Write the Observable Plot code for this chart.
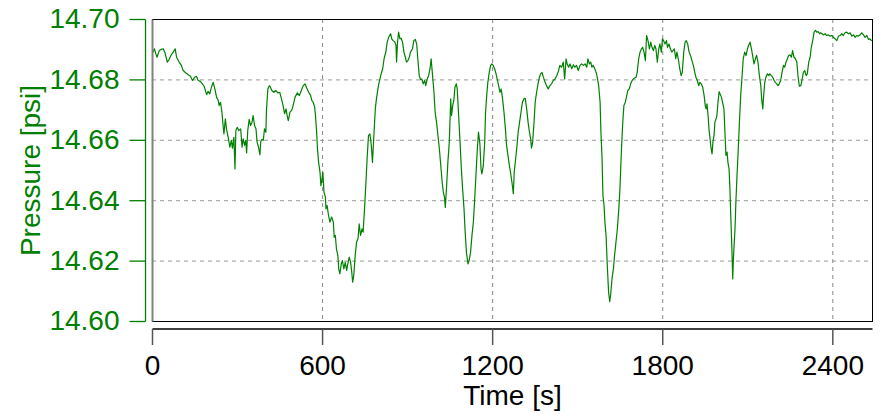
<!DOCTYPE html>
<html><head><meta charset="utf-8">
<script src="https://cdn.jsdelivr.net/npm/d3@7"></script>
<script src="https://cdn.jsdelivr.net/npm/@observablehq/plot@0.6"></script>
<style>body{margin:0;background:#fff}</style>
</head><body><div id="chart"></div>
<script>
// [time s, pressure psi]
const readings = [
[2,14.6892],[7,14.6903],[12,14.6886],[16,14.6875],[24,14.6897],[31,14.6901],[38,14.6903],[44,14.6890],[52,14.6859],[59,14.6868],[66,14.6883],[73,14.6892],[80,14.6903],[85,14.6875],[94,14.6859],[102,14.6848],[108,14.6831],[118,14.6823],[126,14.6817],[134,14.6812],[141,14.6798],[149,14.6809],[155,14.6812],[161,14.6798],[169,14.6795],[176,14.6787],[182,14.6779],[191,14.6751],[196,14.6762],[202,14.6754],[208,14.6776],[214,14.6792],[220,14.6770],[226,14.6743],[232,14.6732],[235,14.6715],[240,14.6726],[245,14.6693],[249,14.6649],[252,14.6621],[257,14.6671],[261,14.6638],[268,14.6605],[273,14.6577],[278,14.6600],[282,14.6574],[287,14.6610],[291,14.6505],[294,14.6632],[299,14.6643],[304,14.6632],[311,14.6638],[316,14.6577],[320,14.6605],[325,14.6583],[329,14.6600],[332,14.6558],[336,14.6632],[341,14.6669],[346,14.6649],[351,14.6660],[355,14.6682],[360,14.6649],[365,14.6638],[369,14.6594],[374,14.6577],[379,14.6552],[382,14.6597],[386,14.6603],[391,14.6600],[395,14.6638],[400,14.6627],[402,14.6699],[407,14.6770],[412,14.6781],[416,14.6776],[421,14.6765],[428,14.6759],[435,14.6765],[442,14.6757],[449,14.6759],[455,14.6737],[461,14.6713],[466,14.6688],[471,14.6704],[475,14.6682],[479,14.6665],[485,14.6693],[491,14.6699],[496,14.6715],[503,14.6743],[511,14.6757],[518,14.6748],[525,14.6765],[532,14.6781],[538,14.6787],[544,14.6773],[551,14.6759],[558,14.6748],[562,14.6732],[567,14.6726],[572,14.6710],[575,14.6682],[579,14.6627],[582,14.6572],[586,14.6527],[591,14.6494],[594,14.6450],[598,14.6472],[601,14.6494],[605,14.6428],[610,14.6412],[612,14.6373],[616,14.6384],[621,14.6351],[626,14.6329],[632,14.6346],[638,14.6329],[641,14.6279],
[645,14.6285],[649,14.6240],[654,14.6218],[657,14.6174],[661,14.6158],[666,14.6191],[670,14.6202],[675,14.6174],[680,14.6196],[685,14.6169],[689,14.6191],[694,14.6213],[699,14.6196],[703,14.6163],[706,14.6130],[710,14.6152],[715,14.6218],[720,14.6263],[725,14.6274],[729,14.6323],[734,14.6285],[739,14.6307],[743,14.6296],[748,14.6373],[753,14.6461],[757,14.6538],[762,14.6616],[767,14.6621],[772,14.6583],[776,14.6527],[781,14.6616],[786,14.6704],[790,14.6737],[797,14.6781],[805,14.6814],[812,14.6837],[817,14.6870],[823,14.6892],[828,14.6925],[833,14.6941],[840,14.6953],[844,14.6936],[849,14.6930],[855,14.6925],[859,14.6914],[861,14.6859],[864,14.6919],[868,14.6958],[873,14.6936],[877,14.6938],[882,14.6925],[887,14.6892],[892,14.6875],[896,14.6859],[901,14.6864],[906,14.6875],[910,14.6892],[917,14.6903],[922,14.6930],[927,14.6934],[932,14.6919],[936,14.6870],[941,14.6814],[946,14.6801],[950,14.6803],[955,14.6787],[960,14.6798],[964,14.6781],[969,14.6803],[974,14.6814],[979,14.6837],[983,14.6870],[988,14.6814],[993,14.6759],[997,14.6693],[1002,14.6660],[1007,14.6616],[1012,14.6572],[1015,14.6538],[1019,14.6494],[1022,14.6461],[1026,14.6428],[1030,14.6412],[1033,14.6378],[1037,14.6439],[1042,14.6527],[1047,14.6594],[1052,14.6737],[1055,14.6682],[1059,14.6715],[1063,14.6732],[1067,14.6776],[1072,14.6787],[1075,14.6770],[1080,14.6682],[1085,14.6594],[1089,14.6516],[1094,14.6439],[1099,14.6373],[1103,14.6296],[1108,14.6224],[1113,14.6191],[1117,14.6202],[1122,14.6229],[1127,14.6285],[1132,14.6329],[1136,14.6395],[1141,14.6483],[1146,14.6572],[1150,14.6627],[1155,14.6588],[1159,14.6505],[1162,14.6489],[1167,14.6516],[1172,14.6594],[1175,14.6693],[1179,14.6748],[1183,14.6792],[1188,14.6825],[1193,14.6848],[1197,14.6853],[1202,14.6848],[1207,14.6837],[1212,14.6820],[1216,14.6803],[1221,14.6781],[1226,14.6759],[1230,14.6770],[1235,14.6737],[1240,14.6693],[1245,14.6638],[1249,14.6583],[1254,14.6550],[1259,14.6516],[1263,14.6494],[1268,14.6461],[1273,14.6423],
[1276,14.6494],[1281,14.6538],[1286,14.6583],[1290,14.6627],[1295,14.6660],[1300,14.6693],[1305,14.6726],[1310,14.6737],[1315,14.6739],[1320,14.6704],[1325,14.6660],[1329,14.6632],[1334,14.6605],[1337,14.6574],[1341,14.6594],[1346,14.6660],[1350,14.6726],[1355,14.6759],[1360,14.6787],[1365,14.6809],[1369,14.6820],[1374,14.6825],[1379,14.6809],[1385,14.6792],[1390,14.6781],[1396,14.6770],[1402,14.6781],[1408,14.6787],[1414,14.6798],[1420,14.6803],[1426,14.6814],[1432,14.6829],[1437,14.6848],[1443,14.6842],[1449,14.6859],[1454,14.6803],[1459,14.6870],[1463,14.6853],[1468,14.6842],[1473,14.6853],[1479,14.6837],[1485,14.6850],[1490,14.6842],[1496,14.6848],[1502,14.6831],[1508,14.6848],[1514,14.6853],[1520,14.6848],[1526,14.6853],[1532,14.6842],[1536,14.6870],[1541,14.6853],[1546,14.6859],[1550,14.6842],[1555,14.6848],[1560,14.6837],[1565,14.6825],[1569,14.6809],[1574,14.6781],[1579,14.6726],[1582,14.6627],[1586,14.6538],[1589,14.6417],[1593,14.6384],[1596,14.6329],[1600,14.6285],[1605,14.6174],[1609,14.6097],[1613,14.6066],[1616,14.6086],[1621,14.6141],[1626,14.6174],[1630,14.6218],[1635,14.6263],[1640,14.6307],[1645,14.6373],[1649,14.6439],[1654,14.6561],[1659,14.6660],[1663,14.6715],[1668,14.6726],[1673,14.6748],[1677,14.6765],[1682,14.6770],[1687,14.6787],[1692,14.6798],[1696,14.6803],[1701,14.6806],[1706,14.6809],[1710,14.6825],[1715,14.6870],[1720,14.6892],[1725,14.6903],[1729,14.6908],[1734,14.6892],[1739,14.6864],[1743,14.6947],[1748,14.6930],[1753,14.6903],[1758,14.6925],[1762,14.6908],[1767,14.6897],[1772,14.6914],[1776,14.6903],[1781,14.6859],[1786,14.6903],[1790,14.6919],[1795,14.6892],[1799,14.6936],[1803,14.6930],[1808,14.6919],[1813,14.6930],[1817,14.6908],[1822,14.6919],[1827,14.6903],[1832,14.6892],[1836,14.6897],[1841,14.6903],[1846,14.6870],[1850,14.6892],[1855,14.6870],[1860,14.6837],[1865,14.6814],[1869,14.6825],[1874,14.6892],[1879,14.6925],[1883,14.6930],[1888,14.6919],[1893,14.6892],
[1898,14.6881],[1903,14.6864],[1908,14.6848],[1913,14.6825],[1917,14.6809],[1922,14.6798],[1927,14.6781],[1931,14.6792],[1936,14.6787],[1941,14.6776],[1946,14.6748],[1950,14.6715],[1953,14.6704],[1956,14.6721],[1960,14.6682],[1963,14.6638],[1967,14.6605],[1970,14.6577],[1974,14.6555],[1977,14.6594],[1981,14.6616],[1984,14.6660],[1988,14.6671],[1991,14.6682],[1995,14.6726],[1999,14.6761],[2002,14.6754],[2007,14.6743],[2011,14.6726],[2016,14.6704],[2020,14.6616],[2023,14.6550],[2027,14.6561],[2030,14.6527],[2034,14.6505],[2037,14.6439],[2040,14.6351],[2042,14.6296],[2044,14.6240],[2047,14.6141],[2049,14.6202],[2051,14.6240],[2055,14.6307],[2058,14.6395],[2062,14.6483],[2066,14.6561],[2070,14.6649],[2075,14.6748],[2080,14.6814],[2084,14.6870],[2089,14.6892],[2094,14.6881],[2099,14.6903],[2103,14.6914],[2108,14.6925],[2113,14.6903],[2117,14.6881],[2122,14.6853],[2127,14.6870],[2131,14.6881],[2136,14.6859],[2141,14.6814],[2146,14.6781],[2149,14.6737],[2153,14.6704],[2156,14.6748],[2160,14.6792],[2164,14.6809],[2169,14.6820],[2174,14.6814],[2178,14.6820],[2183,14.6814],[2188,14.6809],[2193,14.6798],[2197,14.6792],[2202,14.6787],[2207,14.6781],[2211,14.6787],[2216,14.6798],[2221,14.6825],[2226,14.6848],[2230,14.6842],[2235,14.6859],[2240,14.6870],[2244,14.6881],[2249,14.6883],[2254,14.6875],[2258,14.6897],[2263,14.6875],[2268,14.6870],[2273,14.6859],[2277,14.6814],[2282,14.6779],[2287,14.6781],[2291,14.6798],[2296,14.6825],[2301,14.6831],[2306,14.6814],[2310,14.6820],[2315,14.6859],[2320,14.6875],[2324,14.6908],[2329,14.6930],[2334,14.6958],[2339,14.6964],[2343,14.6958],[2348,14.6960],[2353,14.6953],[2357,14.6956],[2362,14.6953],[2367,14.6949],[2373,14.6953],[2378,14.6947],[2384,14.6949],[2390,14.6945],[2396,14.6947],[2402,14.6941],[2408,14.6936],[2414,14.6930],[2420,14.6945],[2426,14.6947],[2431,14.6953],[2437,14.6947],[2443,14.6956],[2449,14.6958],[2455,14.6953],[2461,14.6956],[2467,14.6945],[2473,14.6949],[2479,14.6941],[2484,14.6947],[2490,14.6945],[2496,14.6949],[2502,14.6956],[2508,14.6949],[2514,14.6941],[2520,14.6947],[2526,14.6934],[2531,14.6936],[2536,14.6930]
];
const xTicks = [0, 600, 1200, 1800, 2400];
const yTicks = [14.60, 14.62, 14.64, 14.66, 14.68, 14.70];
const xDomain = [0, 2540];
const yDomain = [14.60, 14.70];
const xLabel = "Time [s]";
const yLabel = "Pressure [psi]";

const data = readings.map(([t, p]) => ({t, p}));
const green = "#008000";

const W = 881, H = 415, mL = 152, mR = 9, mT = 19, mB = 94;
const frameW = W - mL - mR, frameH = H - mT - mB;
const tick = 16, gapX = 7.5, gapY = 7;
// positions of the detached axes, expressed in the scales' own units
const perPxX = (xDomain[1] - xDomain[0]) / frameW;
const perPxY = (yDomain[1] - yDomain[0]) / frameH;
const yAxisAt = xDomain[0] - gapY * perPxX;
const xAxisAt = yDomain[0] - gapX * perPxY;
const yTickStart = yAxisAt - tick * perPxX;
const xTickEnd = xAxisAt - tick * perPxY;

const chart = Plot.plot({
  width: W, height: H,
  marginLeft: mL, marginRight: mR, marginTop: mT, marginBottom: mB,
  style: {fontFamily: "'Liberation Sans', Arial, sans-serif", background: "#fff"},
  x: {domain: xDomain, axis: null},
  y: {domain: yDomain, axis: null},
  marks: [
    Plot.gridX(xTicks.slice(1), {stroke: "#888", strokeOpacity: 1, strokeDasharray: "4,4"}),
    Plot.gridY(yTicks.slice(1, -1), {stroke: "#999", strokeOpacity: 1, strokeDasharray: "4,4"}),
    Plot.line(data, {x: "t", y: "p", stroke: green, strokeWidth: 1.2}),
    Plot.frame({stroke: "#000"}),
    Plot.link([xDomain[0]], {x1: d => d, x2: d => d, y1: () => yDomain[0], y2: () => yDomain[1], stroke: "#808080", strokeWidth: 2}),
    Plot.axisX(xTicks, {tickSize: 0, tickPadding: tick + 10, dy: gapX, label: null, fill: "#000", tickFormat: d => String(d), fontSize: 28}),
    Plot.axisY(yTicks, {tickSize: 0, tickPadding: tick + 10, dx: -gapY, label: null, fill: green, tickFormat: d => d.toFixed(2), fontSize: 28}),
    Plot.text([yLabel], {text: d => d, frameAnchor: "left", textAnchor: "middle", lineAnchor: "middle", dx: -121, rotate: -90, fill: green, fontSize: 28}),
    Plot.text([xLabel], {text: d => d, frameAnchor: "bottom", textAnchor: "middle", lineAnchor: "middle", dy: 75, fill: "#000", fontSize: 28}),
    // detached x axis: line + ticks
    Plot.link([xAxisAt], {x1: () => xDomain[0], x2: () => xDomain[1], y1: d => d, y2: d => d, stroke: "#000", strokeWidth: 1.5}),
    Plot.link(xTicks, {x1: d => d, x2: d => d, y1: () => xAxisAt, y2: () => xTickEnd, stroke: "#555", strokeWidth: 1.5}),
    // detached y axis: line + ticks
    Plot.link([yAxisAt], {x1: d => d, x2: d => d, y1: () => yDomain[0], y2: () => yDomain[1], stroke: green, strokeWidth: 1.3}),
    Plot.link(yTicks, {x1: () => yTickStart, x2: () => yAxisAt, y1: d => d, y2: d => d, stroke: green, strokeWidth: 1.3})
  ]
});
document.getElementById("chart").append(chart);
</script>
</body></html>
